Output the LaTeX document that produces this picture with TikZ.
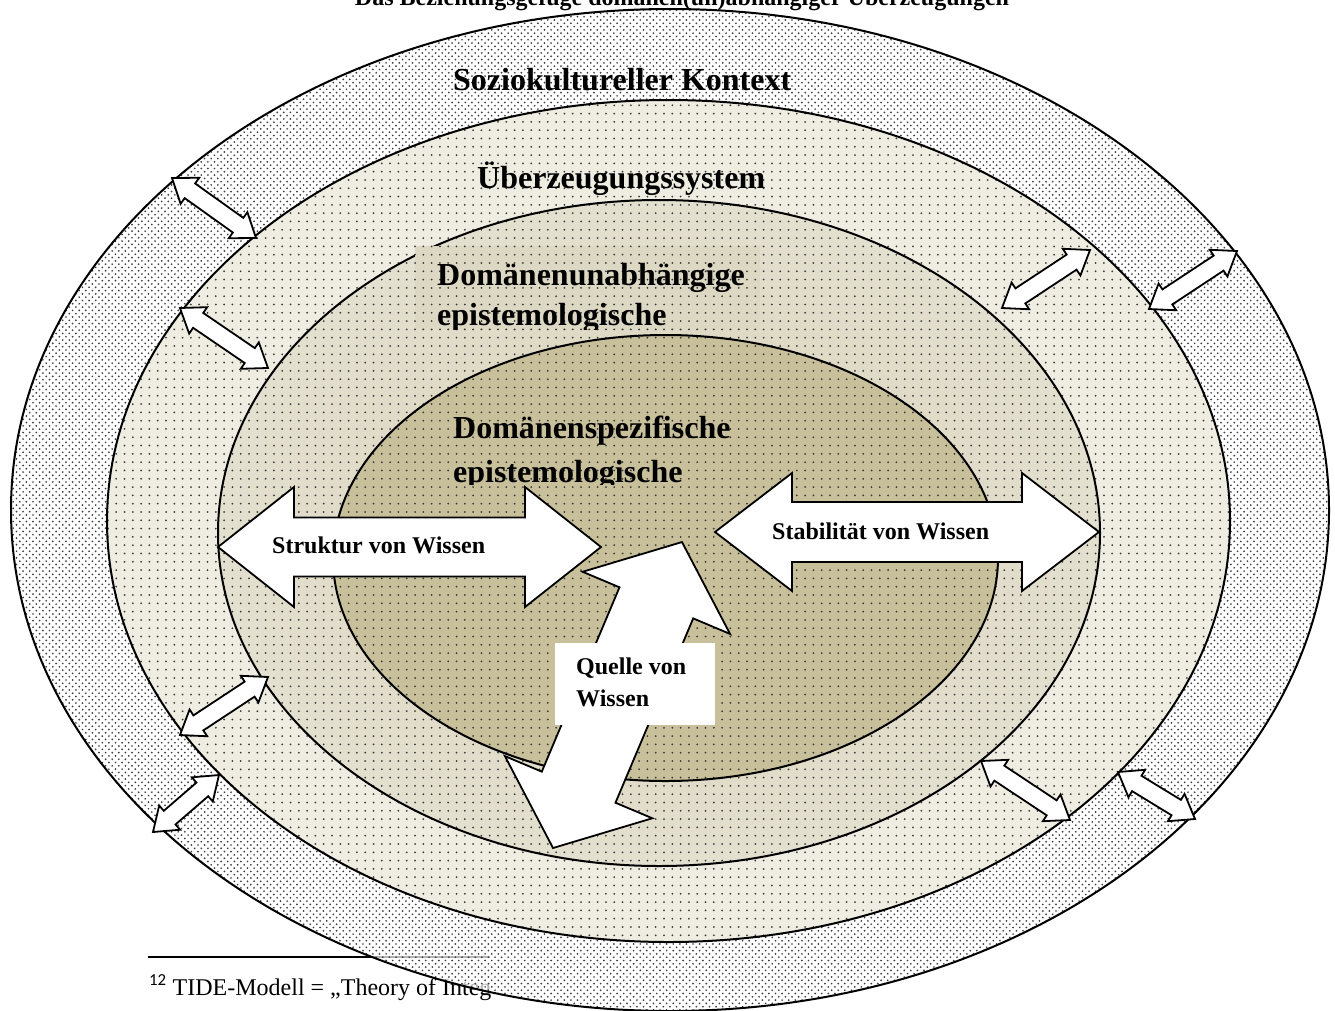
\documentclass[tikz,border=0pt]{standalone}
\usepackage{fontspec}
\setmainfont{Liberation Serif}
\newfontfamily\notefont{Carlito}
\usetikzlibrary{patterns}

\definecolor{ringtwo}{HTML}{EFECE1}
\definecolor{ringthreein}{HTML}{D7D1B7}
\definecolor{ringthreeout}{HTML}{E4E0CF}
\definecolor{ringthree}{HTML}{DDD8C3}
\definecolor{ringfour}{HTML}{C8BF9B}
\definecolor{dotgray}{HTML}{3A3A3A}

\pgfdeclarepatternformonly{outerdots}{\pgfqpoint{-1pt}{-1pt}}{\pgfqpoint{4.4pt}{4.4pt}}{\pgfqpoint{6.6pt}{6.6pt}}{%
  \pgfpathcircle{\pgfqpoint{0pt}{0pt}}{0.95pt}%
  \pgfpathcircle{\pgfqpoint{3.3pt}{3.3pt}}{0.95pt}%
  \pgfusepath{fill}}
\pgfdeclarepatternformonly{innerdots}{\pgfqpoint{-1.2pt}{-1.2pt}}{\pgfqpoint{1.2pt}{1.2pt}}{\pgfqpoint{8.3pt}{8.3pt}}{%
  \pgfpathcircle{\pgfqpoint{0pt}{0pt}}{1pt}%
  \pgfusepath{fill}}

% block arrow with two heads between two named points
\newcommand{\blockarrow}[5]{%
  \pgfpointdiff{\pgfpointanchor{#1}{center}}{\pgfpointanchor{#2}{center}}%
  \pgfgetlastxy{\arrdx}{\arrdy}%
  \pgfmathsetmacro{\arrlen}{veclen(\arrdx,\arrdy)}%
  \pgfmathsetmacro{\arrang}{atan2(\arrdy,\arrdx)}%
  \draw [arrowbox, shift={(#1)}, rotate=\arrang, x=1pt, y=1pt]
    (0,0) -- (#5,#3) -- (#5,#4) -- ({\arrlen-#5},#4) -- ({\arrlen-#5},#3)
    -- (\arrlen,0) -- ({\arrlen-#5},-#3) -- ({\arrlen-#5},-#4)
    -- (#5,-#4) -- (#5,-#3) -- cycle;
}

\tikzset{
  ring/.style={draw=black, line width=2pt, pattern=innerdots, pattern color=dotgray},
  arrowbox/.style={fill=white, draw=black, line width=1.8pt, line join=miter},
  biglabel/.style={font=\bfseries\fontsize{32}{38}\selectfont, inner sep=0pt, anchor=base west},
  smalllabel/.style={font=\bfseries\fontsize{24}{30}\selectfont, inner sep=0pt, anchor=base west},
}

\begin{document}
\begin{tikzpicture}[x=1pt, y=-1pt]
        \fill [white] (0,0) rectangle (1335,1010);
        \useasboundingbox (0,0) rectangle (1335,1010);
        \clip (0,0) rectangle (1335,1010);

            \coordinate (C1) at (670,510);
            \coordinate (C2) at (668.5,521);
            \coordinate (C3) at (659,533);
            \coordinate (C4) at (665.5,558);

      \node [font=\bfseries\fontsize{24}{28}\selectfont, anchor=base, inner sep=0pt] (title) at (682,5) {Das Beziehungsgefüge domänen(un)abhängiger Überzeugungen};

      \draw [line width=1.3pt] (148,957) -- (490,957);
      \node [font=\fontsize{24}{28}\selectfont, anchor=base west, inner sep=0pt] (note) at (149,995) {\textsuperscript{\notefont 12} TIDE-Modell = „Theory of Integ};

      \draw [ring, pattern=outerdots, preaction={fill=white, fill opacity=0.7}] (C1) ellipse [x radius=659pt, y radius=501pt];
      \draw [ring, preaction={fill=ringtwo}] (C2) ellipse [x radius=561.5pt, y radius=421pt];
      \draw [ring, preaction={inner color=ringthreein, outer color=ringthreeout}] (C3) ellipse [x radius=441pt, y radius=333pt];

      \begin{scope}
        \clip (415,246) rectangle (760,329);
        \fill [ringthree] (415,246) rectangle (760,329);
        \fill [pattern=innerdots, pattern color=dotgray] (415,246) rectangle (760,329);
        \node [biglabel] (unabh) at (437,285) {Domänenunabhängige};
        \node [biglabel] (unabh2) at (437,325) {epistemologische};
      \end{scope}

      \draw [ring, preaction={fill=ringfour}] (C4) ellipse [x radius=332.5pt, y radius=223pt];

      \begin{scope}
        \clip (440,405) rectangle (745,484);
        \fill [ringfour] (440,405) rectangle (745,484);
        \fill [pattern=innerdots, pattern color=dotgray] (440,405) rectangle (745,484);
        \node [biglabel] (spez) at (453,438) {Domänenspezifische};
        \node [biglabel] (spez2) at (453,482) {epistemologische};
      \end{scope}

      \node [biglabel] (kontext) at (453,90) {Soziokultureller Kontext};
      \node [biglabel] (system) at (477,188) {Überzeugungssystem};

            \coordinate (struk-l) at (218,547);
            \coordinate (struk-r) at (601,547);
            \coordinate (stab-l) at (715,532);
            \coordinate (stab-r) at (1099,532);
            \coordinate (quel-b) at (553,848);
            \coordinate (quel-t) at (682,542);

      \blockarrow{struk-l}{struk-r}{60}{29.5}{76}
      \blockarrow{stab-l}{stab-r}{59}{30}{77}
      \blockarrow{quel-b}{quel-t}{80}{40}{66}

      \node [smalllabel] (struktur) at (272,553) {Struktur von Wissen};
      \node [smalllabel] (stabil) at (772,539) {Stabilität von Wissen};

      \node [fill=white, inner sep=0pt, minimum width=160pt, minimum height=82pt] (quelle box) at (635,684) {};
      \node [smalllabel] (quelle) at (576,674) {Quelle von};
      \node [smalllabel] (quelle2) at (576,706) {Wissen};

            \coordinate (s1a) at (172,178);   \coordinate (s1b) at (256,238);
            \coordinate (s2a) at (180,308);   \coordinate (s2b) at (268,368);
            \coordinate (s3a) at (1002,308);  \coordinate (s3b) at (1090,250);
            \coordinate (s4a) at (1149,309);  \coordinate (s4b) at (1237,251);
            \coordinate (s5a) at (180,735);   \coordinate (s5b) at (268,677);
            \coordinate (s6a) at (153,832);   \coordinate (s6b) at (219,775);
            \coordinate (s7a) at (981,761);   \coordinate (s7b) at (1070,820);
            \coordinate (s8a) at (1118,772);  \coordinate (s8b) at (1195,819);

      \foreach \a/\b in {s1a/s1b, s2a/s2b, s3a/s3b, s4a/s4b, s5a/s5b, s6a/s6b, s7a/s7b, s8a/s8b}
        \blockarrow{\a}{\b}{16}{9}{22};

      \end{tikzpicture}
\end{document}
